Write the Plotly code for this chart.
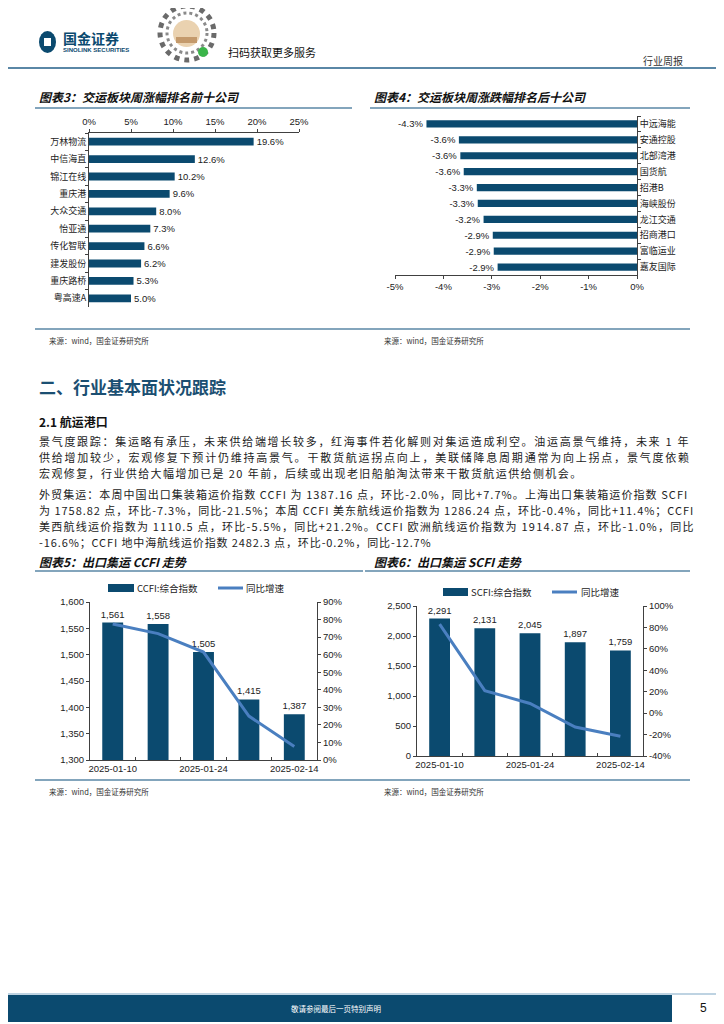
import plotly.graph_objects as go

# The page body adds an 8px margin, so the figure is drawn 8px in from the top-left;
# coordinates below are given in page pixels and converted with that offset.
OFF = 8
W, H = 716, 1016
def X(px): return (px - OFF) / W
def Y(py): return 1 - (py - OFF) / H

# ---------------- data ----------------
top_names = ["万林物流", "中信海直", "锦江在线", "重庆港", "大众交通", "怡亚通", "传化智联", "建发股份", "重庆路桥", "粤高速A"]
top_values = [19.6, 12.6, 10.2, 9.6, 8.0, 7.3, 6.6, 6.2, 5.3, 5.0]
top_ticks = [0, 5, 10, 15, 20, 25]
top_ticktext = ["0%", "5%", "10%", "15%", "20%", "25%"]

bottom_names = ["中远海能", "安通控股", "北部湾港", "国货航", "招港B", "海峡股份", "龙江交通", "招商港口", "富临运业", "嘉友国际"]
bottom_values = [-4.35, -3.68, -3.65, -3.58, -3.31, -3.29, -3.17, -2.98, -2.96, -2.88]
bottom_labels = ["-4.3%", "-3.6%", "-3.6%", "-3.6%", "-3.3%", "-3.3%", "-3.2%", "-2.9%", "-2.9%", "-2.9%"]
bottom_ticks = [-5, -4, -3, -2, -1, 0]
bottom_ticktext = ["-5%", "-4%", "-3%", "-2%", "-1%", "0%"]

weeks = ["2025-01-10", "2025-01-17", "2025-01-24", "2025-02-07", "2025-02-14"]
week_ticktext = ["2025-01-10", "", "2025-01-24", "", "2025-02-14"]

ccfi_index = [1561, 1558, 1505, 1415, 1387]
ccfi_yoy = [77.5, 72.0, 61.5, 25.0, 7.7]
ccfi_right_ticks = [0, 10, 20, 30, 40, 50, 60, 70, 80, 90]
ccfi_right_text = ["0%", "10%", "20%", "30%", "40%", "50%", "60%", "70%", "80%", "90%"]

scfi_index = [2291, 2131, 2045, 1897, 1759]
scfi_yoy = [83.0, 21.0, 9.0, -13.0, -21.5]
scfi_right_ticks = [-40, -20, 0, 20, 40, 60, 80, 100]
scfi_right_text = ["-40%", "-20%", "0%", "20%", "40%", "60%", "80%", "100%"]

para1 = [
    "景气度跟踪：集运略有承压，未来供给端增长较多，红海事件若化解则对集运造成利空。油运高景气维持，未来 1 年",
    "供给增加较少，宏观修复下预计仍维持高景气。干散货航运拐点向上，美联储降息周期通常为向上拐点，景气度依赖",
    "宏观修复，行业供给大幅增加已是 20 年前，后续或出现老旧船舶淘汰带来干散货航运供给侧机会。",
]
para2 = [
    "外贸集运：本周中国出口集装箱运价指数 CCFI 为 1387.16 点，环比-2.0%，同比+7.7%。上海出口集装箱运价指数 SCFI",
    "为 1758.82 点，环比-7.3%，同比-21.5%；本周 CCFI 美东航线运价指数为 1286.24 点，环比-0.4%，同比+11.4%；CCFI",
    "美西航线运价指数为 1110.5 点，环比-5.5%，同比+21.2%。CCFI 欧洲航线运价指数为 1914.87 点，环比-1.0%，同比",
    "-16.6%；CCFI 地中海航线运价指数 2482.3 点，环比-0.2%，同比-12.7%",
]

# ---------------- style ----------------
BAR = "#0b4a6f"
LINE = "#4a7fc0"
RULE = "#5a87a6"
AX = "#404040"
CJK = "Noto Sans CJK SC"
ARIAL = "Liberation Sans, Arial, sans-serif"
TXT = "#222222"
# per-line letter spacing (px) to imitate the justified body text
para1_spacing = [1.7, 1.78, 1.4]
para2_spacing = [1.07, 0.97, 1.24, 0.89]

fig = go.Figure()

# Chart 3
fig.add_trace(go.Bar(
    x=top_values, y=top_names, orientation="h", xaxis="x", yaxis="y",
    marker=dict(color=BAR, line=dict(width=0)), width=0.45,
    texttemplate="%{x:.1f}%", textposition="outside", constraintext="none",
    textfont=dict(family=ARIAL, size=9.5, color=TXT), cliponaxis=False,
    showlegend=False, hoverinfo="skip"))

# Chart 4
fig.add_trace(go.Bar(
    x=bottom_values, y=bottom_names, orientation="h", xaxis="x2", yaxis="y2",
    marker=dict(color=BAR, line=dict(width=0)), width=0.45,
    text=bottom_labels, texttemplate="%{text}", textposition="outside", constraintext="none",
    textfont=dict(family=ARIAL, size=9.5, color=TXT), cliponaxis=False,
    showlegend=False, hoverinfo="skip"))

# Chart 5
fig.add_trace(go.Bar(
    x=weeks, y=ccfi_index, xaxis="x3", yaxis="y3",
    marker=dict(color=BAR, line=dict(width=0)), width=0.46,
    texttemplate="%{y:,.0f}", textposition="outside", constraintext="none",
    textfont=dict(family=ARIAL, size=9.5, color=TXT),
    showlegend=False, hoverinfo="skip"))
fig.add_trace(go.Scatter(
    x=weeks, y=ccfi_yoy, xaxis="x3", yaxis="y4", mode="lines",
    line=dict(color=LINE, width=3), showlegend=False, hoverinfo="skip"))

# Chart 6
fig.add_trace(go.Bar(
    x=weeks, y=scfi_index, xaxis="x4", yaxis="y5",
    marker=dict(color=BAR, line=dict(width=0)), width=0.46,
    texttemplate="%{y:,.0f}", textposition="outside", constraintext="none",
    textfont=dict(family=ARIAL, size=9.5, color=TXT), cliponaxis=False,
    showlegend=False, hoverinfo="skip"))
fig.add_trace(go.Scatter(
    x=weeks, y=scfi_yoy, xaxis="x4", yaxis="y6", mode="lines",
    line=dict(color=LINE, width=3), showlegend=False, hoverinfo="skip"))

tickf = dict(family=ARIAL, size=9.5, color=TXT)
cjkf = dict(family=CJK, size=9, color=TXT)
base = dict(showgrid=False, zeroline=False, showline=True, linecolor=AX, linewidth=1,
            ticks="outside", ticklen=3, tickcolor=AX, fixedrange=True, automargin=False)

fig.update_layout(
    width=W, height=H, autosize=False,
    margin=dict(l=0, r=0, t=0, b=0, pad=0),
    paper_bgcolor="white", plot_bgcolor="rgba(0,0,0,0)",
    bargap=0.5,
    xaxis=dict(base, domain=[X(89), X(299)], anchor="y", side="top", range=[0, 25],
               tickvals=top_ticks, ticktext=top_ticktext, tickangle=0, tickfont=tickf),
    yaxis=dict(base, domain=[Y(307), Y(133)], anchor="x", type="category",
               categoryorder="array", categoryarray=top_names, autorange="reversed",
               tickson="boundaries", tickfont=cjkf),
    xaxis2=dict(base, domain=[X(395), X(637)], anchor="y2", side="bottom", range=[-5, 0],
                tickvals=bottom_ticks, ticktext=bottom_ticktext, tickangle=0, tickfont=tickf),
    yaxis2=dict(base, domain=[Y(275), Y(116)], anchor="x2", side="right", type="category",
                categoryorder="array", categoryarray=bottom_names, autorange="reversed",
                tickson="boundaries", tickfont=cjkf),
    xaxis3=dict(base, domain=[X(90), X(317)], anchor="y3", type="category",
                tickvals=weeks, ticktext=week_ticktext, tickson="boundaries", ticks="inside",
                tickangle=0, tickfont=tickf),
    yaxis3=dict(base, domain=[Y(760), Y(602)], anchor="x3", range=[1300, 1600], dtick=50,
                tickformat=",", tickfont=tickf),
    yaxis4=dict(base, overlaying="y3", anchor="x3", side="right", range=[0, 90],
                tickvals=ccfi_right_ticks, ticktext=ccfi_right_text, tickfont=tickf),
    xaxis4=dict(base, domain=[X(417), X(643)], anchor="y5", type="category",
                tickvals=weeks, ticktext=week_ticktext, tickson="boundaries", ticks="inside",
                tickangle=0, tickfont=tickf),
    yaxis5=dict(base, domain=[Y(756), Y(606)], anchor="x4", range=[0, 2500], dtick=500,
                tickformat=",", tickfont=tickf),
    yaxis6=dict(base, overlaying="y5", anchor="x4", side="right", range=[-40, 100],
                tickvals=scfi_right_ticks, ticktext=scfi_right_text, tickfont=tickf),
)

shapes = []
ann = []

def text(x, y, s, size=10, family=CJK, color=TXT, bold=False, italic=False, anchor="left"):
    ann.append(dict(x=X(x), y=Y(y), xref="paper", yref="paper", text=("<b>%s</b>" % s) if bold else s,
                    showarrow=False, xanchor=anchor, yanchor="middle", align="left", borderpad=0,
                    font=dict(family=family, size=size, color=color,
                              style="italic" if italic else "normal")))

def hline(x0, x1, y, color=RULE, width=1.5):
    shapes.append(dict(type="line", xref="paper", yref="paper", x0=X(x0), x1=X(x1), y0=Y(y), y1=Y(y),
                       line=dict(color=color, width=width)))

def rect(x0, y0, x1, y1, color, kind="rect", line=None):
    shapes.append(dict(type=kind, xref="paper", yref="paper", x0=X(x0), x1=X(x1), y0=Y(y1), y1=Y(y0),
                       fillcolor=color, line=line or dict(width=0)))

# ---- header ----
rect(39, 31, 56, 53, BAR, kind="circle")
rect(44, 38, 51, 46, "white")
text(62, 38, "国金证券", size=14, bold=True, color=BAR)
text(62, 50, "SINOLINK SECURITIES", size=6, family=ARIAL, bold=True, color=BAR)
# mini-program code (approximation)
shapes.append(dict(type="circle", xref="paper", yref="paper", x0=X(160), x1=X(214), y0=Y(60), y1=Y(6),
                   line=dict(color="#6a6a6a", width=5, dash="dot")))
shapes.append(dict(type="circle", xref="paper", yref="paper", x0=X(167), x1=X(207), y0=Y(53), y1=Y(13),
                   line=dict(color="#8a8a8a", width=3, dash="dot")))
rect(173, 20, 200, 47, "#ead2b0", kind="circle")
rect(176, 37, 197, 43, "#c49a6c")
rect(198, 47, 208, 57, "#3bb54a", kind="circle")
text(227, 52, "扫码获取更多服务", size=11, color="#111")
text(642, 60, "行业周报", size=10, color="#333")
hline(0, 724, 68, color=RULE, width=2)

# ---- chart 3 / 4 titles ----
text(38, 97, "图表3：交运板块周涨幅排名前十公司", size=12, bold=True, italic=True, color="#111")
hline(35, 352, 108)
text(373, 97, "图表4：交运板块周涨跌幅排名后十公司", size=12, bold=True, italic=True, color="#111")
hline(370, 690, 108)
hline(35, 690, 329)
text(48, 340, "来源：wind，国金证券研究所", size=7.5, color="#333")
text(383, 340, "来源：wind，国金证券研究所", size=7.5, color="#333")

# ---- section text ----
text(38, 386, "二、行业基本面状况跟踪", size=17, bold=True, color="#1b4f72")
text(38, 422, "2.1 航运港口", size=12, bold=True, color="#111")
P_SIZE = 11
for i, (s, ls) in enumerate(zip(para1, para1_spacing)):
    text(38, 441 + 16 * i, '<span style="letter-spacing:%.2fpx">%s</span>' % (ls, s), size=P_SIZE, color=TXT)
for i, (s, ls) in enumerate(zip(para2, para2_spacing)):
    text(38, 494 + 16 * i, '<span style="letter-spacing:%.2fpx">%s</span>' % (ls, s), size=P_SIZE, color=TXT)

# ---- chart 5 / 6 titles & legends ----
text(38, 561, "图表5：出口集运 CCFI 走势", size=12, bold=True, italic=True, color="#111")
hline(35, 363, 571)
text(373, 561, "图表6：出口集运 SCFI 走势", size=12, bold=True, italic=True, color="#111")
hline(365, 690, 571)

rect(108, 584, 134, 592, BAR)
text(136, 588, "CCFI:综合指数", size=9.5, color=TXT)
hline(218, 243, 588, color=LINE, width=3)
text(245, 588, "同比增速", size=9.5, color=TXT)

rect(443, 588, 468, 596, BAR)
text(470, 592, "SCFI:综合指数", size=9.5, color=TXT)
hline(552, 577, 592, color=LINE, width=3)
text(580, 592, "同比增速", size=9.5, color=TXT)

hline(35, 690, 780)
text(48, 791, "来源：wind，国金证券研究所", size=7.5, color="#333")
text(383, 791, "来源：wind，国金证券研究所", size=7.5, color="#333")

# ---- footer ----
hline(0, 724, 994, color="#a9c4d8", width=1.5)
rect(0, 995, 672, 1022, BAR)
text(336, 1008, "敬请参阅最后一页特别声明", size=7.5, color="white", anchor="center")
text(703, 1008, "5", size=12, family=ARIAL, color="#111", anchor="center")

fig.update_layout(shapes=shapes, annotations=ann)
fig.write_html("out.html")
